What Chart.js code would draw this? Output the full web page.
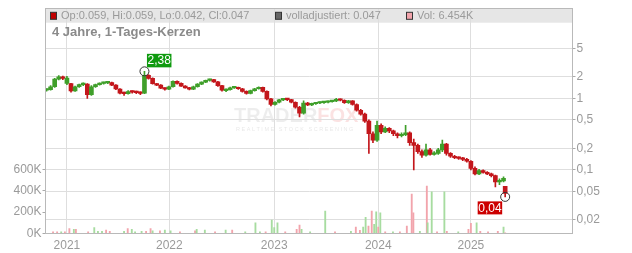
<!DOCTYPE html>
<html><head><meta charset="utf-8">
<script src="https://cdn.jsdelivr.net/npm/chart.js@4"></script>
<style>html,body{margin:0;padding:0;background:#fff;}#wrap{width:632px;height:253px;}</style>
</head><body><div id="wrap"><canvas id="c" width="632" height="253"></canvas></div>
<script>
// ---- data (trading-day index, daily candles sampled) ----
const days = [0,10,20,30,40,50,60,70,80,90,100,110,120,130,140,150,160,170,180,190,200,210,220,230,240,250,260,270,280,290,300,310,320,330,340,350,360,370,380,390,400,410,420,430,440,450,460,470,480,490,500,510,520,530,540,550,560,570,580,590,600,610,620,630,640,650,660,670,680,690,700,710,720,730,740,750,760,770,780,790,800,810,820,830,840,850,860,870,880,890,900,910,920,930,940,950,960,970,980,990,1000,1010,1020,1030,1040,1050,1060,1070,1080,1090,1100,1110,1120,1124];
const opens = [1.30,1.32,1.45,1.85,2.00,1.62,1.60,1.27,1.45,1.55,
1.58,1.12,1.45,1.55,1.62,1.64,1.66,1.53,1.35,1.18,
1.16,1.24,1.22,1.20,1.18,2.10,1.90,1.60,1.53,1.38,
1.34,1.45,1.72,1.62,1.48,1.40,1.34,1.45,1.58,1.68,
1.78,1.82,1.70,1.50,1.28,1.32,1.40,1.42,1.36,1.25,
1.17,1.28,1.36,1.42,1.25,0.98,0.82,0.88,0.95,0.97,
0.96,0.88,0.75,0.62,0.86,0.81,0.84,0.86,0.87,0.88,
0.90,0.92,0.96,0.94,0.87,0.92,0.82,0.68,0.60,0.48,
0.32,0.26,0.42,0.34,0.38,0.35,0.32,0.30,0.31,0.33,
0.24,0.22,0.18,0.16,0.19,0.165,0.17,0.19,0.23,0.17,
0.155,0.148,0.145,0.14,0.132,0.105,0.088,0.098,0.092,0.088,
0.083,0.068,0.070,0.059];
const highs = [1.36,1.50,1.90,2.08,2.05,2.02,1.62,1.48,1.58,1.64,
1.60,1.50,1.58,1.65,1.68,1.70,1.68,1.55,1.37,1.22,
1.28,1.27,1.26,1.23,2.38,2.15,1.93,1.62,1.55,1.40,
1.48,1.76,1.75,1.64,1.50,1.42,1.48,1.60,1.70,1.80,
1.86,1.84,1.72,1.52,1.36,1.44,1.45,1.44,1.38,1.27,
1.30,1.38,1.45,1.44,1.27,1.00,0.90,0.97,0.99,0.99,
0.97,0.89,0.77,0.92,0.88,0.86,0.88,0.89,0.90,0.92,
0.94,1.00,0.98,0.95,0.94,0.93,0.84,0.70,0.62,0.50,
0.34,0.48,0.44,0.40,0.39,0.36,0.33,0.33,0.42,0.34,
0.27,0.23,0.19,0.23,0.20,0.18,0.20,0.26,0.235,0.175,
0.16,0.152,0.15,0.145,0.135,0.11,0.102,0.10,0.095,0.09,
0.085,0.075,0.08,0.059];
const lows = [1.26,1.30,1.42,1.80,1.82,1.55,1.22,1.25,1.42,1.50,
1.00,1.10,1.42,1.52,1.58,1.60,1.50,1.32,1.15,1.10,
1.14,1.18,1.16,1.12,1.16,1.85,1.58,1.50,1.36,1.30,
1.32,1.43,1.58,1.46,1.38,1.31,1.32,1.43,1.55,1.65,
1.74,1.66,1.47,1.26,1.24,1.30,1.37,1.33,1.22,1.14,
1.15,1.26,1.34,1.22,0.95,0.78,0.80,0.86,0.93,0.93,
0.86,0.73,0.55,0.60,0.79,0.79,0.82,0.84,0.85,0.86,
0.88,0.90,0.92,0.85,0.85,0.80,0.66,0.58,0.46,0.17,
0.24,0.25,0.32,0.33,0.33,0.30,0.28,0.29,0.30,0.22,
0.10,0.17,0.15,0.155,0.16,0.16,0.165,0.18,0.16,0.15,
0.143,0.140,0.135,0.128,0.10,0.085,0.086,0.09,0.086,0.08,
0.058,0.062,0.068,0.042];
const closes = [1.32,1.45,1.85,2.00,1.90,1.92,1.27,1.45,1.55,1.60,
1.12,1.45,1.55,1.62,1.64,1.66,1.53,1.35,1.18,1.16,
1.24,1.22,1.20,1.17,2.10,1.90,1.60,1.53,1.38,1.34,
1.45,1.72,1.62,1.48,1.40,1.34,1.45,1.58,1.68,1.78,
1.82,1.70,1.50,1.30,1.32,1.40,1.42,1.36,1.25,1.17,
1.28,1.36,1.42,1.25,0.98,0.82,0.88,0.95,0.97,0.96,
0.88,0.75,0.62,0.86,0.81,0.84,0.86,0.87,0.88,0.90,
0.92,0.96,0.94,0.87,0.92,0.82,0.68,0.60,0.48,0.32,
0.26,0.42,0.34,0.38,0.35,0.32,0.30,0.31,0.33,0.24,
0.22,0.18,0.16,0.19,0.165,0.17,0.19,0.23,0.17,0.155,
0.148,0.145,0.14,0.132,0.105,0.088,0.098,0.092,0.088,0.083,
0.068,0.070,0.076,0.047];
const volDays = [16,26,36,45,56,67,72,102,117,126,136,146,155,190,199,209,217,233,244,255,
260,278,290,304,327,364,368,388,413,439,455,487,512,523,537,552,558,566,585,613,
620,625,646,683,707,746,758,768,776,782,789,797,803,808,813,818,830,849,866,883,
895,899,915,932,934,944,957,975,981,1009,1034,1040,1054,1063,1082,1106,1120,1124];
const volK = [15,15,15,15,47,40,40,15,56,20,20,31,20,20,47,40,15,20,20,47,
25,25,31,25,15,25,40,31,15,31,31,15,100,15,15,125,55,100,15,40,
78,40,15,209,15,20,60,30,60,150,70,209,85,203,60,193,15,15,15,70,
368,193,20,443,100,390,15,390,20,15,40,94,100,20,15,20,60,6.454];
const volUp = [0,0,1,0,0,1,0,0,1,1,1,0,0,1,0,1,1,1,0,0,
1,0,1,1,0,0,1,1,0,1,0,1,1,1,0,1,1,1,0,0,
0,1,1,1,0,1,0,0,1,1,0,0,1,1,0,1,0,1,0,0,
0,0,1,0,1,1,0,1,0,1,0,0,1,0,0,0,1,0];
const yearDays = [50,301,558,813,1040];
const yearLabels = ['2021','2022','2023','2024','2025'];
const priceTicks = [0.02,0.05,0.1,0.2,0.5,1,2,5];
const volTicks = [0,200000,400000,600000];
const adjusted = 0.047;

// ---- styling ----
const UP='#3f9f2a', DOWN='#c3161b', VUP='#a7dca0', VDOWN='#f2a4ac';
Chart.defaults.font.family = "'Liberation Sans', Arial, sans-serif";
Chart.defaults.font.size = 12;
Chart.defaults.color = '#9a9a9a';

const candleColors = closes.map((c,i)=> c>=opens[i] ? UP : DOWN);
const wickData = days.map((d,i)=>({x:d, y:[lows[i], highs[i]]}));
const bodyData = days.map((d,i)=>({x:d, y:[Math.min(opens[i],closes[i]), Math.max(opens[i],closes[i])]}));
const volData = volDays.map((d,i)=>({x:d, y:volK[i]*1000}));
const volColors = volUp.map(u=> u ? VUP : VDOWN);

const fmt = v => String(v).replace('.', ',');

const deco = {
  id:'deco',
  beforeDraw(chart){
    const {ctx, chartArea:a} = chart;
    ctx.save();
    ctx.fillStyle = '#e6e6e6';
    ctx.fillRect(a.left, a.top, a.right-a.left, 14.2);
    // watermark
    ctx.font = "bold 20px 'Liberation Sans', Arial, sans-serif";
    ctx.textBaseline = 'alphabetic';
    ctx.fillStyle = 'rgba(0,0,0,0.07)';
    ctx.fillText('TRADER', 234, 122);
    const w = ctx.measureText('TRADER').width;
    ctx.fillStyle = 'rgba(230,60,60,0.15)';
    ctx.fillText('FOX', 234 + w, 122);
    ctx.font = "5.5px 'Liberation Sans', Arial, sans-serif";
    ctx.fillStyle = 'rgba(0,0,0,0.10)';
    ctx.fillText('R E A L T I M E   S T O C K   S C R E E N I N G', 236, 131);
    ctx.restore();
  },
  afterDraw(chart){
    const {ctx, chartArea:a} = chart;
    const xs = chart.scales.x, ys = chart.scales.yPrice;
    ctx.save();
    // frame
    ctx.strokeStyle = '#b9b9b9'; ctx.lineWidth = 1;
    ctx.strokeRect(a.left, a.top, a.right-a.left, a.bottom-a.top);
    // header legend
    const n = days.length-1;
    ctx.font = "11px 'Liberation Sans', Arial, sans-serif";
    ctx.textBaseline = 'middle';
    const cy = a.top + 7.3;
    const item = (x, col, txt) => {
      ctx.fillStyle = col; ctx.fillRect(x+0.5, cy-3.5, 6, 7);
      ctx.strokeStyle = '#333'; ctx.strokeRect(x+0.5, cy-3.5, 6, 7);
      ctx.fillStyle = '#9a9a9a'; ctx.fillText(txt, x+11, cy+0.5);
    };
    item(50, '#c00000', `Op:${opens[n].toFixed(3)}, Hi:${highs[n].toFixed(3)}, Lo:${lows[n].toFixed(3)}, Cl:${closes[n].toFixed(3)}`);
    item(275, '#666666', `volladjustiert: ${adjusted.toFixed(3)}`);
    item(406, '#f2a4ac', `Vol: ${volK[volK.length-1].toFixed(3)}K`);
    ctx.font = "bold 13px 'Liberation Sans', Arial, sans-serif";
    ctx.fillStyle = '#8a8a8a';
    ctx.fillText('4 Jahre, 1-Tages-Kerzen', 52, a.top + 24);
    // high marker
    const hi = Math.max(...highs), hiI = highs.indexOf(hi);
    let px = xs.getPixelForValue(days[hiI]), py = ys.getPixelForValue(hi);
    ctx.strokeStyle = '#333'; ctx.lineWidth = 1;
    ctx.beginPath(); ctx.arc(px, py, 4.5, 0, Math.PI*2); ctx.stroke();
    ctx.fillStyle = '#0e9a0e';
    ctx.fillRect(px+2.5, py-17.5, 24.5, 13.5);
    ctx.fillStyle = '#fff'; ctx.font = "12px 'Liberation Sans', Arial, sans-serif";
    ctx.textAlign = 'center';
    ctx.fillText(hi.toFixed(2).replace('.', ','), px+2.5+12.25, py-10.5);
    // last marker
    px = xs.getPixelForValue(days[n]); py = ys.getPixelForValue(lows[n]);
    ctx.beginPath(); ctx.arc(px, py, 4.5, 0, Math.PI*2); ctx.stroke();
    ctx.fillStyle = '#cc0000';
    ctx.fillRect(px-27.5, py+4.5, 24.5, 13);
    ctx.fillStyle = '#fff';
    ctx.fillText(lows[n].toFixed(2).replace('.', ','), px-27.5+12.25, py+11.5);
    ctx.restore();
  }
};

new Chart(document.getElementById('c'), {
  type:'bar',
  data:{ datasets:[
    {data:bodyData, yAxisID:'yPrice', backgroundColor:candleColors, barThickness:4, grouped:false, minBarLength:1.5, borderWidth:0, order:1},
    {data:wickData, yAxisID:'yPrice', backgroundColor:candleColors, barThickness:1, grouped:false, borderWidth:0, order:2},
    {data:volData, yAxisID:'yVol', backgroundColor:volColors, barThickness:1.2, grouped:false, borderWidth:0, order:3}
  ]},
  plugins:[deco],
  options:{
    responsive:false, animation:false, devicePixelRatio:1, events:[],
    layout:{padding:{top:8.5, left:0, right:0, bottom:0}},
    plugins:{legend:{display:false}, tooltip:{enabled:false}},
    scales:{
      x:{type:'linear', min:-2.5, max:1289, offset:false,
        grid:{color:'#dedede', drawTicks:false, offset:false}, border:{display:false},
        ticks:{padding:5, autoSkip:false, maxRotation:0, color:'#9a9a9a', font:{size:12},
          callback:v=>{const k=yearDays.indexOf(v); return k>=0?yearLabels[k]:'';}},
        afterBuildTicks:s=>{s.ticks=yearDays.map(v=>({value:v}));},
        afterFit:s=>{s.height=19.5;}},
      yVol:{type:'linear', position:'left', min:0, max:2100000,
        grid:{drawOnChartArea:false, tickColor:'#aaa', tickLength:3}, border:{display:false},
        ticks:{padding:1, color:'#9a9a9a', callback:v=>(v/1000)+'K'},
        afterBuildTicks:s=>{s.ticks=volTicks.map(v=>({value:v}));},
        afterFit:s=>{s.width=45.5;}},
      yPrice:{type:'logarithmic', position:'right', min:0.01294, max:17.95,
        grid:{color:'#dedede', tickColor:'#aaa', tickLength:3}, border:{display:false},
        ticks:{padding:1, color:'#9a9a9a', autoSkip:false, callback:v=>fmt(v)},
        afterBuildTicks:s=>{s.ticks=priceTicks.map(v=>({value:v}));},
        afterFit:s=>{s.width=59.5;}}
    }
  }
});
</script></body></html>
